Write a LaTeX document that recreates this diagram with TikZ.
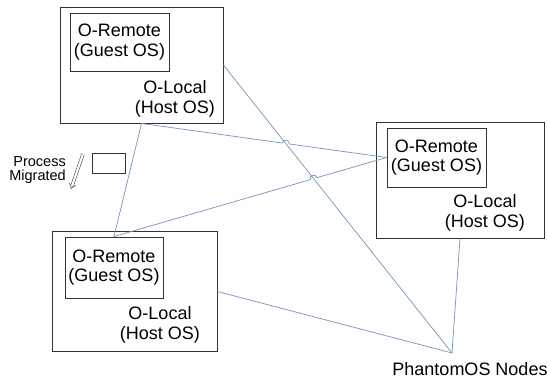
\documentclass[tikz,border=0pt]{standalone}
\usepackage{fontspec}
\setmainfont{Liberation Sans}
\usetikzlibrary{arrows.meta,calc,intersections}
\definecolor{linkblue}{HTML}{7393BD}
\definecolor{boxgray}{HTML}{333333}
\begin{document}
\begin{tikzpicture}[x=1pt,y=1pt,
  host/.style={draw=boxgray, line width=0.9pt, inner sep=0pt},
  guest/.style={draw=boxgray, line width=0.9pt, inner sep=0pt, align=center,
    font=\fontsize{18}{19.5}\selectfont},
  lbl/.style={inner sep=0pt, align=center, font=\fontsize{18}{19.5}\selectfont},
  link/.style={draw=linkblue, line width=0.7pt}]
\useasboundingbox (0,0) rectangle (547,-381);
\node[host, minimum width=163, minimum height=116] (hostA) at (141.5,-65) {};
\node[guest, minimum width=99, minimum height=58] (guestA) at (119.5,-42) {O-Remote\\(Guest OS)};
\node[lbl] (localA) at (175,-99) {O-Local\\(Host OS)};
\node[host, minimum width=168, minimum height=116] (hostB) at (460,-180) {};
\node[guest, minimum width=99, minimum height=59] (guestB) at (436.5,-157.5) {O-Remote\\(Guest OS)};
\node[lbl] (localB) at (485,-213) {O-Local\\(Host OS)};
\node[host, minimum width=165, minimum height=120] (hostC) at (134.5,-291.5) {};
\node[guest, minimum width=98, minimum height=61] (guestC) at (114,-267.5) {O-Remote\\(Guest OS)};
\node[lbl] (localC) at (160,-325) {O-Local\\(Host OS)};
\node[host, minimum width=33, minimum height=20] (proc) at (108.5,-163) {};
\node[inner sep=0pt, align=right, anchor=east, font=\fontsize{14.5}{14.5}\selectfont] (migr) at (66,-170) {Process\\Migrated};
\coordinate (mtop) at (83,-154);
\coordinate (mend) at (71,-189);
\draw[boxgray, line width=0.5pt, double, double distance=2.2pt, -{Implies}] (mtop) -- (mend);
\coordinate (hub) at (452,-353);
\node[lbl, anchor=north] (phantom) at (470,-362) {PhantomOS Nodes};
\path[name path=diag] (hostA.east) -- (hub);
\path[name path=upper] (hostA.south) -- (guestB.west);
\path[name path=lower] (guestC.north) -- (guestB.west);
\path[name intersections={of=diag and upper, by=hopA}];
\path[name intersections={of=diag and lower, by=hopB}];
\draw[link] (hostA.south) -- (guestC.north);
\draw[link] (hostA.south) -- ($(hopA)!3.5pt!(hostA.south)$) arc[start angle=172.3, end angle=-7.7, radius=3.5pt] -- (guestB.west);
\draw[link] (guestC.north) -- ($(hopB)!3.5pt!(guestC.north)$) arc[start angle=196.4, end angle=16.4, radius=3.5pt] -- (guestB.west);
\draw[link] (hostA.east) -- (hub);
\draw[link] (hostC.east) -- (hub);
\draw[link] (hostB.south) -- (hub);
\end{tikzpicture}
\end{document}
